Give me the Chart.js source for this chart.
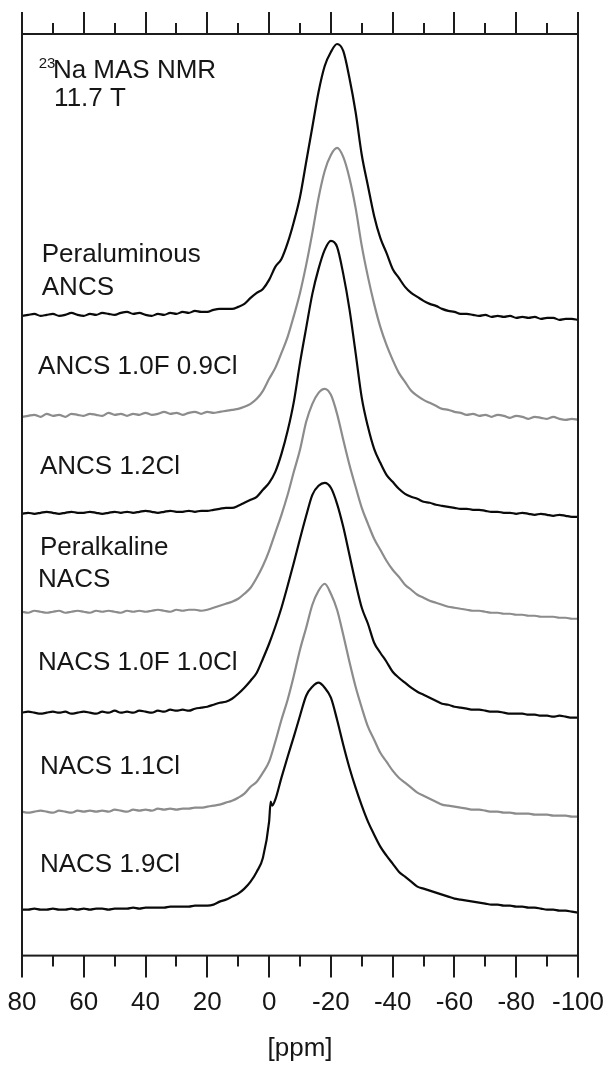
<!DOCTYPE html>
<html>
<head>
<meta charset="utf-8">
<script src="https://cdn.jsdelivr.net/npm/chart.js@4.4.1/dist/chart.umd.min.js"></script>
<style>
  html, body { margin: 0; padding: 0; background: #ffffff; }
  #wrap { width: 610px; height: 1070px; }
</style>
</head>
<body>
<div id="wrap"><canvas id="c" width="610" height="1070"></canvas></div>
<script>
// ---- data (chemical shift in ppm, intensities in arbitrary units) ----
const ppm = [80,78,76,74,72,70,68,66,64,62,60,58,56,54,52,50,48,46,44,42,40,38,36,34,32,30,28,26,24,22,20,18,16,14,12,10,8,6,4,2,0,-0.5,-1,-2,-4,-6,-8,-10,-12,-14,-16,-18,-20,-22,-24,-26,-28,-30,-32,-34,-36,-38,-40,-42,-44,-46,-48,-50,-52,-54,-56,-58,-60,-62,-64,-66,-68,-70,-72,-74,-76,-78,-80,-82,-84,-86,-88,-90,-92,-94,-96,-98,-100];

const sampleNames = ['Peraluminous ANCS','ANCS 1.0F 0.9Cl','ANCS 1.2Cl','Peralkaline NACS','NACS 1.0F 1.0Cl','NACS 1.1Cl','NACS 1.9Cl'];

const peraluminousANCS = [-1,0,1,-1,0,1,-1,0,2,0, -1,1,0,2,1,0,2,3,1,2, 0,-1,1,0,2,1,3,2,4,3, 3,5,6,6,6,8,11,17,22,26, 35,null,null, 48,56,72,93,118,153,188,223,249,263, 271,264,237,203,160,129,99,77,62,46, 37,28,22,18,14,11,9,6,4,3, 1,1,0,-1,0,-2,-1,-2,-1,-3, -2,-3,-2,-4,-3,-3,-5,-4,-4,-5];
const ancs10F09Cl = [-2,-1,0,-2,1,-1,0,-2,1,0, -1,1,0,-1,2,0,1,-1,1,0, 2,0,1,3,1,2,0,2,3,1, 3,2,3,4,5,6,8,11,16,24, 36,null,null, 47,62,78,99,122,150,182,217,244,260, 267,258,237,207,169,138,111,88,70,55, 42,33,24,19,15,12,9,6,5,3, 2,0,1,-1,0,-2,0,-1,-3,-1, -2,-4,-2,-3,-4,-2,-4,-5,-4,-5];
const ancs12Cl = [-1,0,-1,0,1,0,-1,0,1,0, 0,1,0,-1,0,1,0,1,0,1, 2,1,0,1,2,1,1,2,1,2, 2,3,4,5,5,7,10,13,16,23, 30,null,null, 41,59,82,111,150,185,219,244,263,272, 266,239,204,160,115,86,64,50,38,31, 24,19,16,14,11,10,8,7,6,5, 4,4,3,3,2,1,1,0,0,-1, 0,-1,-2,-1,-2,-3,-2,-3,-4,-4];
const peralkalineNACS = [0,-1,1,0,-1,0,1,-1,0,1, 0,-1,1,0,1,0,-1,1,0,1, 0,1,2,1,0,2,1,2,2,1, 2,4,6,8,10,13,18,24,34,46, 61,null,null, 79,97,117,140,162,190,208,219,223,217, 198,172,147,125,104,88,73,62,51,42, 35,27,22,17,14,11,9,7,5,4, 3,2,1,1,0,-1,-1,-2,-2,-3, -3,-4,-4,-5,-5,-5,-6,-6,-7,-7];
const nacs10F10Cl = [0,1,0,-1,0,1,0,1,-1,0, 1,0,-1,1,0,2,0,1,0,2, 1,0,2,1,3,2,3,2,4,5, 6,8,10,11,14,19,25,32,40,54, 69,null,null, 86,105,127,150,174,197,218,227,230,225, 209,186,158,130,105,89,70,60,51,41, 35,30,25,21,18,15,12,9,8,6, 5,4,3,3,2,1,1,0,-1,-1, -1,-2,-2,-3,-3,-4,-3,-4,-5,-5];
const nacs11Cl = [0,-1,0,1,0,-1,1,0,-1,1, 0,1,0,1,0,2,1,0,2,1, 2,1,3,2,3,2,3,3,4,4, 5,6,7,9,11,14,18,25,30,39, 50,null,null, 70,92,112,136,162,184,207,221,228,218, 202,177,150,125,104,85,72,59,50,41, 34,29,24,19,16,13,10,7,6,5, 4,3,2,2,1,0,0,-1,-1,-2, -2,-2,-3,-3,-3,-4,-4,-4,-5,-5];
const nacs19Cl = [0,0,1,0,0,1,0,0,1,0, 1,0,1,1,0,1,1,1,2,1, 2,2,2,2,3,3,3,3,4,4, 4,5,8,10,13,16,21,28,38,52, 88,108,104, 110,132,153,173,194,214,223,227,222,212, 190,165,142,122,104,88,75,63,54,46, 38,33,28,23,21,19,17,15,13,11, 10,9,8,7,6,5,5,4,4,3, 3,2,2,1,0,0,-1,-1,-2,-3];

// vertical stacking offset of each trace
const stackOffsets = [641, 541, 443, 344, 243, 144, 46];

// x-axis ticks
const tickStep = 10;
const labelStep = 20;

// ---- styles / layout ----
const spectra = [peraluminousANCS, ancs10F09Cl, ancs12Cl, peralkalineNACS, nacs10F10Cl, nacs11Cl, nacs19Cl];
const lineColors = ['#0a0a0a', '#8c8c8c', '#0a0a0a', '#8c8c8c', '#0a0a0a', '#8c8c8c', '#0a0a0a'];
const FONT = '"Liberation Sans", Arial, Helvetica, sans-serif';
const TEXT_COLOR = '#161616';

const textLabels = [
  { text: 'Peraluminous', ppm: 73.6, y: 701 },
  { text: 'ANCS', ppm: 73.6, y: 668 },
  { text: 'ANCS 1.0F 0.9Cl', ppm: 74.8, y: 589 },
  { text: 'ANCS 1.2Cl', ppm: 74.2, y: 489 },
  { text: 'Peralkaline', ppm: 74.2, y: 408 },
  { text: 'NACS', ppm: 74.8, y: 376 },
  { text: 'NACS 1.0F 1.0Cl', ppm: 74.8, y: 293 },
  { text: 'NACS 1.1Cl', ppm: 74.2, y: 189 },
  { text: 'NACS 1.9Cl', ppm: 74.2, y: 91 },
  { text: 'Na MAS NMR', ppm: 70.0, y: 885 },
  { text: '11.7 T', ppm: 69.6, y: 857 }
];
const superscript = { text: '23', ppm: 74.6, y: 892 };

const datasets = spectra.map((s, i) => ({
  label: sampleNames[i],
  data: ppm.map((p, j) => ({ x: p, y: s[j] === null ? null : s[j] + stackOffsets[i] })),
  borderColor: lineColors[i],
  borderWidth: 2.2,
  pointRadius: 0,
  fill: false,
  spanGaps: true,
  cubicInterpolationMode: 'monotone'
}));

const frameTicks = {
  id: 'frameTicks',
  afterDraw(chart) {
    const { ctx, chartArea: a, scales: { x } } = chart;
    ctx.save();
    ctx.strokeStyle = '#1c1c1c';
    ctx.lineWidth = 2;
    ctx.strokeRect(a.left, a.top, a.right - a.left, a.bottom - a.top);
    ctx.beginPath();
    x.ticks.forEach(t => {
      const px = Math.round(x.getPixelForValue(t.value));
      const len = (Math.abs(t.value) % labelStep === 0) ? 22 : 11;
      ctx.moveTo(px, a.bottom); ctx.lineTo(px, a.bottom + len);
      ctx.moveTo(px, a.top); ctx.lineTo(px, a.top - len);
    });
    ctx.stroke();
    ctx.restore();
  }
};

const annotations = {
  id: 'annotations',
  afterDatasetsDraw(chart) {
    const { ctx, scales: { x, y } } = chart;
    ctx.save();
    ctx.fillStyle = TEXT_COLOR;
    ctx.textAlign = 'left';
    ctx.textBaseline = 'middle';
    ctx.font = '26px ' + FONT;
    textLabels.forEach(l => ctx.fillText(l.text, x.getPixelForValue(l.ppm), y.getPixelForValue(l.y)));
    ctx.font = '15px ' + FONT;
    ctx.fillText(superscript.text, x.getPixelForValue(superscript.ppm), y.getPixelForValue(superscript.y));
    ctx.restore();
  }
};

new Chart(document.getElementById('c'), {
  type: 'line',
  data: { datasets },
  plugins: [frameTicks, annotations],
  options: {
    responsive: false,
    animation: false,
    devicePixelRatio: 1,
    layout: { padding: { top: 34, left: 22, right: 32, bottom: 2 } },
    plugins: { legend: { display: false }, tooltip: { enabled: false } },
    scales: {
      x: {
        type: 'linear',
        position: 'bottom',
        reverse: true,
        min: -100,
        max: 80,
        grid: { display: false, drawTicks: true, tickLength: 32 },
        border: { display: false },
        ticks: {
          stepSize: tickStep,
          autoSkip: false,
          maxRotation: 0,
          padding: 0,
          color: TEXT_COLOR,
          font: { family: FONT, size: 26 },
          callback: v => (Math.abs(v) % labelStep === 0 ? String(v) : '')
        },
        title: {
          display: true,
          text: '[ppm]',
          color: TEXT_COLOR,
          font: { family: FONT, size: 26 },
          padding: { top: 14, bottom: 4 }
        }
      },
      y: {
        type: 'linear',
        display: false,
        min: 0,
        max: 922
      }
    }
  }
});
</script>
</body>
</html>
